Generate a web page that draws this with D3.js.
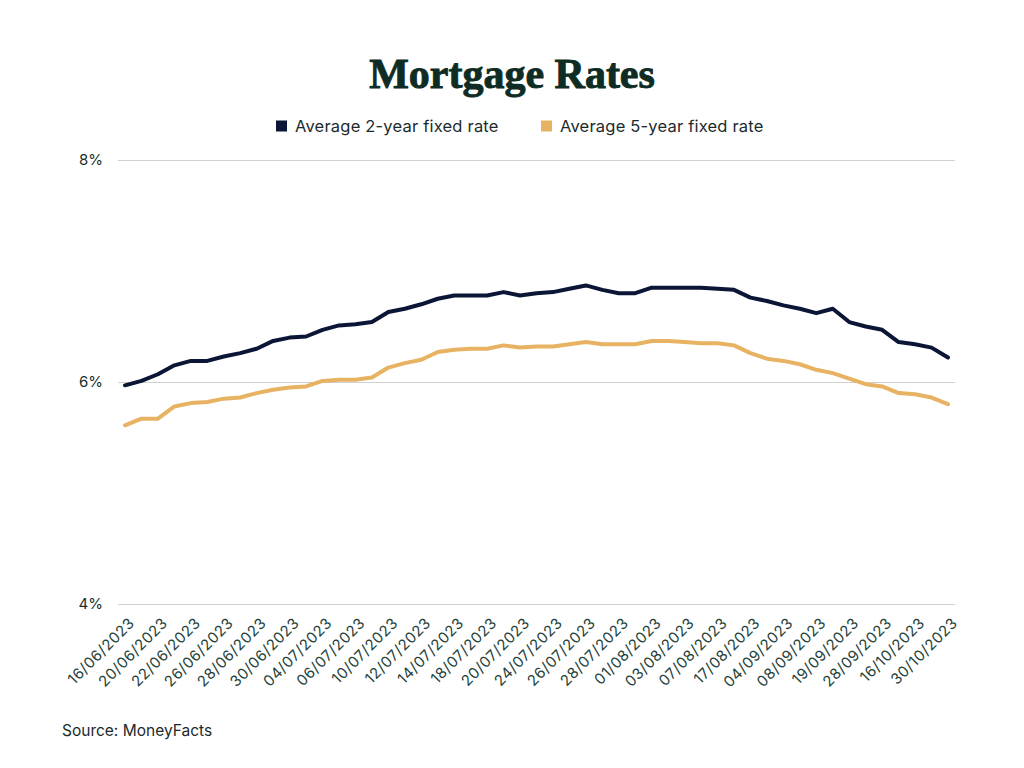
<!DOCTYPE html>
<html>
<head>
<meta charset="utf-8">
<script src="https://cdn.jsdelivr.net/npm/d3@7"></script>
<style>
  html, body { margin: 0; padding: 0; background: #ffffff; }
  svg { display: block; }
</style>
</head>
<body>
<svg id="chart" width="1024" height="768"></svg>
<script>
// ---- data ----
const dates = [
  "16/06/2023","19/06/2023","20/06/2023","21/06/2023","22/06/2023","23/06/2023",
  "26/06/2023","27/06/2023","28/06/2023","29/06/2023","30/06/2023","03/07/2023",
  "04/07/2023","05/07/2023","06/07/2023","07/07/2023","10/07/2023","11/07/2023",
  "12/07/2023","13/07/2023","14/07/2023","17/07/2023","18/07/2023","19/07/2023",
  "20/07/2023","21/07/2023","24/07/2023","25/07/2023","26/07/2023","27/07/2023",
  "28/07/2023","31/07/2023","01/08/2023","02/08/2023","03/08/2023","04/08/2023",
  "07/08/2023","10/08/2023","17/08/2023","24/08/2023","04/09/2023","06/09/2023",
  "08/09/2023","13/09/2023","19/09/2023","22/09/2023","28/09/2023","04/10/2023",
  "16/10/2023","23/10/2023","30/10/2023"
];
const twoYear = [
  5.97, 6.01, 6.07, 6.15, 6.19, 6.19, 6.23, 6.26, 6.30, 6.37, 6.40, 6.41,
  6.47, 6.51, 6.52, 6.54, 6.63, 6.66, 6.70, 6.75, 6.78, 6.78, 6.78, 6.81,
  6.78, 6.80, 6.81, 6.84, 6.87, 6.83, 6.80, 6.80, 6.85, 6.85, 6.85, 6.85,
  6.84, 6.83, 6.76, 6.73, 6.69, 6.66, 6.62, 6.66, 6.54, 6.50, 6.47, 6.36,
  6.34, 6.31, 6.22
];
const fiveYear = [
  5.61, 5.67, 5.67, 5.78, 5.81, 5.82, 5.85, 5.86, 5.90, 5.93, 5.95, 5.96,
  6.01, 6.02, 6.02, 6.04, 6.13, 6.17, 6.20, 6.27, 6.29, 6.30, 6.30, 6.33,
  6.31, 6.32, 6.32, 6.34, 6.36, 6.34, 6.34, 6.34, 6.37, 6.37, 6.36, 6.35,
  6.35, 6.33, 6.26, 6.21, 6.19, 6.16, 6.11, 6.08, 6.03, 5.98, 5.96, 5.90,
  5.89, 5.86, 5.80
];
const seriesNames = ["Average 2-year fixed rate", "Average 5-year fixed rate"];
const seriesColors = ["#0b1535", "#e8b263"];
const yTicks = [4, 6, 8];
const titleText = "Mortgage Rates";
const sourceText = "Source: MoneyFacts";

// ---- drawing ----
const svg = d3.select("#chart");
const textColor = "#17302a";

const x = d3.scalePoint().domain(dates).range([125, 948]);
const y = d3.scaleLinear().domain([4, 8]).range([604, 160]);

// title
svg.append("text")
  .attr("x", 512).attr("y", 88)
  .attr("text-anchor", "middle")
  .attr("font-family", "'Liberation Serif', 'DejaVu Serif', serif")
  .attr("font-weight", "bold")
  .attr("font-size", 42)
  .attr("fill", "#0e2c24")
  .attr("stroke", "#0e2c24")
  .attr("stroke-width", 0.9)
  .text(titleText);

// legend
const legendX = [276, 541];
seriesNames.forEach((name, i) => {
  const g = svg.append("g").attr("transform", `translate(${legendX[i]},126)`);
  g.append("rect").attr("x", 0).attr("y", -5.5).attr("width", 11).attr("height", 11)
    .attr("fill", seriesColors[i]);
  g.append("text").attr("x", 19).attr("y", 0).attr("dy", "0.35em")
    .attr("font-family", "Inter, 'Noto Sans', sans-serif")
    .attr("font-size", 16.5)
    .attr("letter-spacing", 0.2)
    .attr("fill", "#1c2a2c")
    .text(name);
});

// y grid + labels
const yAxis = d3.axisLeft(y).tickValues(yTicks).tickFormat(d => d + "%")
  .tickSize(-(955 - 118)).tickPadding(15);
const yg = svg.append("g").attr("transform", "translate(118,0)").call(yAxis);
yg.select(".domain").remove();
yg.selectAll(".tick line").attr("stroke", "#d0d0d0").attr("stroke-width", 1);
yg.selectAll(".tick text")
  .attr("font-family", "Inter, 'Noto Sans', sans-serif")
  .attr("font-size", 15).attr("fill", textColor);

// x axis labels
const xAxis = d3.axisBottom(x)
  .tickValues(dates.filter((d, i) => i % 2 === 0))
  .tickSize(0).tickPadding(0);
const xg = svg.append("g").attr("transform", "translate(0,604)").call(xAxis);
xg.select(".domain").remove();
xg.selectAll(".tick text")
  .attr("font-family", "Inter, 'Noto Sans', sans-serif")
  .attr("font-size", 15)
  .attr("letter-spacing", 0.5)
  .attr("fill", "#24423a")
  .attr("text-anchor", "end")
  .attr("dy", 0)
  .attr("y", 0)
  .attr("transform", "translate(10,20) rotate(-45)");

// lines
const seriesData = [twoYear, fiveYear];
const line = d3.line().x((d, i) => x(dates[i])).y(d => y(d));
seriesData.forEach((vals, i) => {
  svg.append("path")
    .datum(vals)
    .attr("fill", "none")
    .attr("stroke", seriesColors[i])
    .attr("stroke-width", 4)
    .attr("stroke-linejoin", "round")
    .attr("stroke-linecap", "round")
    .attr("d", line);
});

// source
svg.append("text")
  .attr("x", 62).attr("y", 736)
  .attr("font-family", "Inter, 'Noto Sans', sans-serif")
  .attr("font-size", 15.5)
  .attr("fill", "#1c2a2c")
  .text(sourceText);
</script>
</body>
</html>
